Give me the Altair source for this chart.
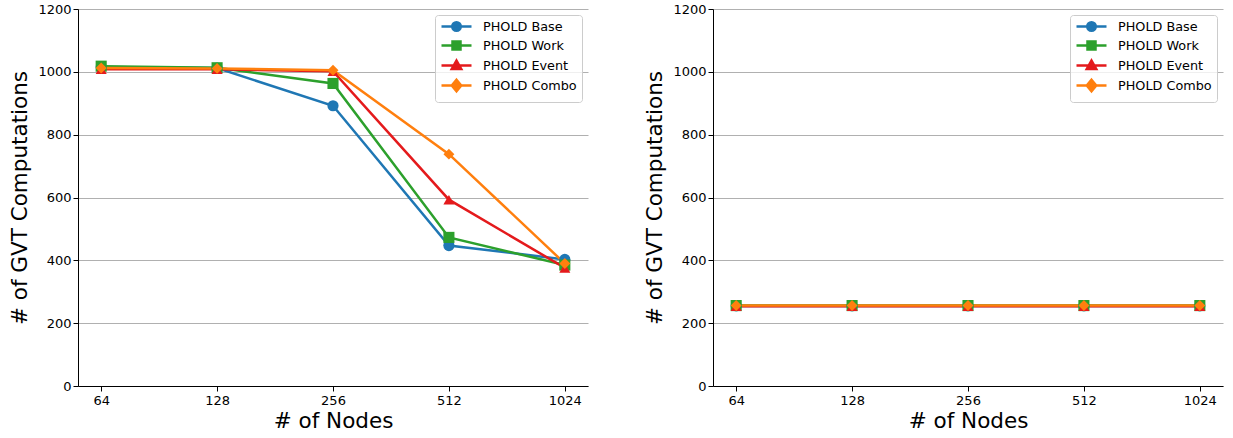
import altair as alt
import pandas as pd

nodes = ["64", "128", "256", "512", "1024"]
series = ["PHOLD Base", "PHOLD Work", "PHOLD Event", "PHOLD Combo"]
colors = ["#1f77b4", "#2ca02c", "#e41a1c", "#ff7f0e"]
shapes = ["circle", "square", "triangle-up", "diamond"]
marker_sizes = [125, 120, 155, 200]

left_base = [1015, 1012, 892, 447, 403]
left_work = [1018, 1013, 963, 473, 385]
left_event = [1008, 1008, 1002, 593, 376]
left_combo = [1012, 1011, 1005, 738, 390]

right_base = [255, 255, 255, 255, 255]
right_work = [256, 256, 256, 256, 256]
right_event = [254, 254, 254, 254, 254]
right_combo = [256, 256, 256, 256, 256]

y_ticks = [0, 200, 400, 600, 800, 1000, 1200]

# legend glyphs: line segment with the marker on it
legend_paths = [
    "M-3,0H3M0.85,0A0.85,0.85,0,1,1,-0.85,0A0.85,0.85,0,1,1,0.85,0Z",
    "M-3,0H3M-0.8,-0.8H0.8V0.8H-0.8Z",
    "M-3,0H3M0,-1L0.95,0.7L-0.95,0.7Z",
    "M-3,0H3M0,-1.15L0.95,0L0,1.15L-0.95,0Z",
]

color_expr = " : ".join(
    f"datum.value === '{s}' ? '{c}'" for s, c in zip(series, colors)
) + " : '#000'"


def make_df(vals):
    rows = []
    for s, v in zip(series, vals):
        for n, y in zip(nodes, v):
            rows.append({"nodes": n, "series": s, "value": y})
    return pd.DataFrame(rows)


def panel(df):
    x = alt.X("nodes:N", sort=nodes,
              scale=alt.Scale(type="point", padding=0.2),
              axis=alt.Axis(title="# of Nodes", labelAngle=0, grid=False))
    y = alt.Y("value:Q", scale=alt.Scale(domain=[0, 1200], nice=False),
              axis=alt.Axis(title="# of GVT Computations", values=y_ticks,
                            format="d", grid=True))
    cscale = alt.Scale(domain=series, range=colors)
    base = alt.Chart(df)
    lines = base.mark_line(strokeWidth=2.5).encode(
        x=x, y=y,
        color=alt.Color("series:N", scale=cscale, legend=None),
        detail="series:N",
    )
    points = base.mark_point(filled=True, opacity=1).encode(
        x=x, y=y,
        color=alt.Color("series:N", scale=cscale, legend=None),
        shape=alt.Shape("series:N", scale=alt.Scale(domain=series, range=shapes),
                        legend=None),
        size=alt.Size("series:N",
                      scale=alt.Scale(domain=series, range=marker_sizes),
                      legend=None),
    )
    leg = alt.Legend(
        title=None, orient="top-right", offset=6,
        symbolSize=100, symbolStrokeWidth=2.5, labelFontSize=12.8,
        labelFont="DejaVu Sans", labelColor="#000",
        strokeColor="#cccccc", fillColor="rgba(255,255,255,0.8)",
        cornerRadius=3, padding=5, rowPadding=0,
        labelOffset=20, symbolOffset=10, symbolOpacity=1,
        symbolFillColor=alt.ExprRef(expr=color_expr),
        symbolStrokeColor=alt.ExprRef(expr=color_expr),
    )
    legend_layer = base.mark_point(filled=True, opacity=0).encode(
        x=x, y=y,
        color=alt.Color("series:N", scale=alt.Scale(domain=series, range=colors),
                        legend=leg),
        shape=alt.Shape("series:N",
                        scale=alt.Scale(domain=series, range=legend_paths),
                        legend=leg),
    )
    return alt.layer(lines, points, legend_layer).resolve_scale(
        color="independent", shape="independent"
    ).properties(width=510, height=377)


left = panel(make_df([left_base, left_work, left_event, left_combo]))
right = panel(make_df([right_base, right_work, right_event, right_combo]))

chart = alt.hconcat(left, right, spacing=56).properties(
    padding={"left": 9, "top": 3, "right": 5, "bottom": 5}
).configure_view(stroke=None).configure_axis(
    domainColor="#000", tickColor="#000", labelColor="#000", titleColor="#000",
    labelFont="DejaVu Sans", titleFont="DejaVu Sans", labelFontSize=13,
    titleFontSize=21.5, titleFontWeight="normal", tickSize=5, labelPadding=2,
    gridColor="#b0b0b0", gridWidth=1, domainWidth=1,
).configure_axisY(titlePadding=6).configure_axisX(titlePadding=3, labelPadding=3)

chart.save("out.html", embed_options={"renderer": "svg", "actions": False})
